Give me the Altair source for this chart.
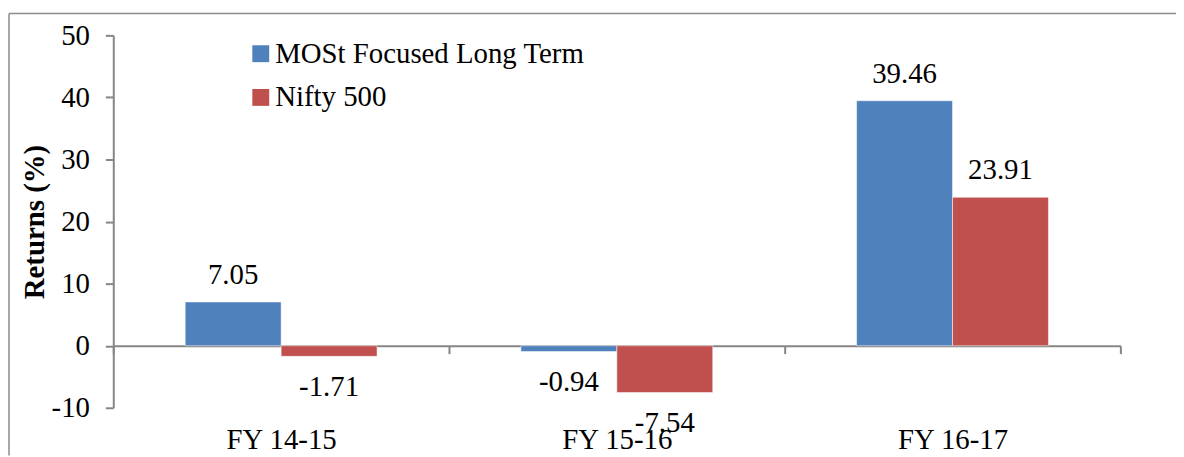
import altair as alt
import pandas as pd

categories = ["FY 14-15", "FY 15-16", "FY 16-17"]
series_names = ["MOSt Focused Long Term", "Nifty 500"]
most_values = [7.05, -0.94, 39.46]
nifty_values = [-1.71, -7.54, 23.91]
y_ticks = [-10, 0, 10, 20, 30, 40, 50]
colors = ["#4F81BD", "#C0504D"]

rows = []
for c, a, b in zip(categories, most_values, nifty_values):
    rows.append({"cat": c, "series": series_names[0], "value": a, "label": f"{a:.2f}"})
    rows.append({"cat": c, "series": series_names[1], "value": b, "label": f"{b:.2f}"})
df = pd.DataFrame(rows)

FONT = "Liberation Serif"
FS = 29
GRAY = "#868686"

x_enc = alt.X("cat:N", sort=categories,
              scale=alt.Scale(paddingInner=0, paddingOuter=0),
              axis=alt.Axis(title=None, orient="bottom", offset=-62.5,
                            domainColor=GRAY, domainWidth=2,
                            tickBand="extent", tickSize=8, tickColor=GRAY, tickWidth=2,
                            labelBaseline="alphabetic", labelPadding=95,
                            labelFont=FONT, labelFontSize=FS, labelColor="black",
                            labelAngle=0))
xoff = alt.XOffset("series:N", sort=series_names,
                   scale=alt.Scale(paddingOuter=0.75, paddingInner=0))
y_scale = alt.Scale(domain=[-10, 50], nice=False, zero=False)

bars = alt.Chart(df).mark_bar(stroke="white", strokeWidth=0.5).encode(
    x=x_enc,
    xOffset=xoff,
    y=alt.Y("value:Q", scale=y_scale,
            axis=alt.Axis(values=y_ticks, grid=False, title="Returns (%)",
                          labelExpr="'' + datum.value",
                          domainColor=GRAY, domainWidth=2,
                          tickSize=8, tickColor=GRAY, tickWidth=2,
                          labelPadding=16, labelFont=FONT, labelFontSize=FS,
                          labelColor="black",
                          titleFont=FONT, titleFontSize=FS, titleFontWeight="bold",
                          titleColor="black", titleAngle=-90, titleX=-79.5,
                          titleY=187.5, titleAlign="center", titleBaseline="middle")),
    color=alt.Color("series:N", sort=series_names,
                    scale=alt.Scale(domain=series_names, range=colors),
                    legend=alt.Legend(title=None, orient="none", legendX=134, legendY=4,
                                      symbolType="square", symbolSize=289,
                                      symbolStrokeWidth=0, labelFont=FONT,
                                      labelFontSize=FS, labelColor="black",
                                      labelOffset=0, rowPadding=14, padding=0,
                                      labelLimit=600)),
)

pos_text = alt.Chart(df).transform_filter("datum.value >= 0").mark_text(
    font=FONT, fontSize=FS, color="black", baseline="alphabetic", dy=-18
).encode(x=alt.X("cat:N", sort=categories), xOffset=xoff,
         y=alt.Y("value:Q", scale=y_scale), text="label:N")

neg_text = alt.Chart(df).transform_filter("datum.value < 0").mark_text(
    font=FONT, fontSize=FS, color="black", baseline="alphabetic", dy=40
).encode(x=alt.X("cat:N", sort=categories), xOffset=xoff,
         y=alt.Y("value:Q", scale=y_scale), text="label:N")

frame_data = alt.Data(values=[{"k": 1}])
frame_top = alt.Chart(frame_data).mark_rule(color="#8c8c8c", strokeWidth=1.5).encode(
    x=alt.value(-105), x2=alt.value(1070), y=alt.value(-22))
frame_left = alt.Chart(frame_data).mark_rule(color="#8c8c8c", strokeWidth=1.5).encode(
    x=alt.value(-105), y=alt.value(-22), y2=alt.value(423))

chart = alt.layer(bars, pos_text, neg_text, frame_top, frame_left).properties(
    width=1014, height=375,
    autosize=alt.AutoSizeParams(type="none"),
    padding={"left": 106, "top": 26, "right": 56, "bottom": 48},
    background="white",
).configure_view(stroke=None)

chart.save("out.html", embed_options={"renderer": "svg", "actions": False})
